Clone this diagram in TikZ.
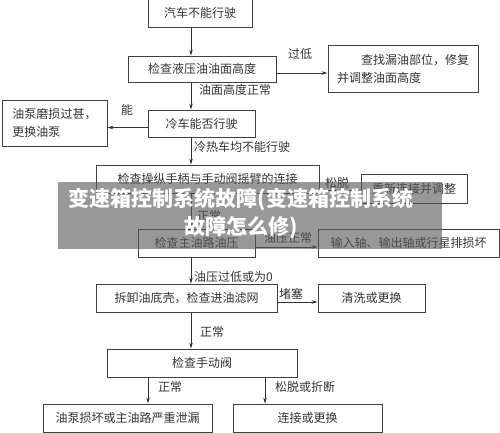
\documentclass[tikz,border=0pt]{standalone}
\usepackage{fontspec}
\setmainfont{Noto Sans CJK SC}
\usetikzlibrary{arrows.meta}

\begin{document}
\begin{tikzpicture}[x=1pt,y=-1pt,
    font=\fontsize{12}{18}\selectfont,
    >={Stealth[length=6pt,width=3.5pt]},
    box/.style={draw=black!75,line width=0.9pt,text=black!80,inner sep=2pt},
    lbl/.style={text=black!80,inner sep=1pt},
    flow/.style={->,draw=black!80,line width=0.7pt}]
\useasboundingbox (0,0) rectangle (500,433);
    % Draw the boxes
    \node (car) at (200,12.5) [box,minimum width=104pt,minimum height=29pt] {汽车不能行驶};
    \node (level) at (202,69) [box,minimum width=148pt,minimum height=26pt] {检查液压油油面高度};
    \node (leak) at (403,68.5) [box,minimum width=150pt,minimum height=47pt,align=left] {\hspace{2em}查找漏油部位，修复\\并调整油面高度};
    \node (cold) at (201.5,123.5) [box,minimum width=107pt,minimum height=27pt] {冷车能否行驶};
    \node (pump) at (54.5,123) [box,minimum width=105pt,minimum height=46pt,align=left] {油泵磨损过甚，\\更换油泵};
    \node (lever) at (207.5,179) [box,minimum width=223pt,minimum height=28pt] {检查操纵手柄与手动阀摇臂的连接};
    \node (refit) at (414,188.5) [box,minimum width=106pt,minimum height=29pt] {重新连接并调整};
    \node (press) at (196.5,243) [box,minimum width=117pt,minimum height=28pt] {检查主油路油压};
    \node (shaft) at (408.5,243) [box,minimum width=181pt,minimum height=28pt] {输入轴、输出轴或行星排损坏};
    \node (filter) at (186.5,298) [box,minimum width=181pt,minimum height=28pt] {拆卸油底壳，检查进油滤网};
    \node (clean) at (371.5,298) [box,minimum width=107pt,minimum height=28pt] {清洗或更换};
    \node (valve) at (202,363) [box,minimum width=190pt,minimum height=28pt] {检查手动阀};
    \node (broken) at (127.5,418) [box,minimum width=169pt,minimum height=28pt] {油泵损坏或主油路严重泄漏};
    \node (swap) at (307.5,418) [box,minimum width=149pt,minimum height=28pt] {连接或更换};
    % Draw the main line
    \coordinate (spine) at (191,0);
    \coordinate (lbr) at (148,0);
    \coordinate (rbr) at (265,0);
    \draw[flow] (car.south -| spine) -- (level.north -| spine);
    \draw[flow] (level.south -| spine) -- (cold.north -| spine);
    \draw[flow] (cold.south -| spine) -- (lever.north -| spine);
    \draw[flow] (lever.south -| spine) -- (press.north -| spine);
    \draw[flow] (press.south -| spine) -- (filter.north -| spine);
    \draw[flow] (filter.south -| spine) -- (valve.north -| spine);
    % Side branches
    \draw[flow] ([yshift=-4pt]level.east) -- ([yshift=-4pt]level.east -| leak.west);
    \draw[flow] ([yshift=-4pt]cold.west) -- ([yshift=-4pt]cold.west -| pump.east);
    \draw[flow] ([yshift=-2pt]refit.west -| lever.east) -- ([yshift=-2pt]refit.west);
    \draw[flow] ([yshift=-4pt]press.east) -- ([yshift=-4pt]shaft.west);
    \draw[flow] ([yshift=-4pt]filter.east) -- ([yshift=-4pt]clean.west);
    \draw[flow] (valve.south -| lbr) -- (broken.north -| lbr);
    \draw[flow] (valve.south -| rbr) -- (swap.north -| rbr);
    % Labels
    \node (l1) at (198,90) [lbl,anchor=west] {油面高度正常};
    \node (l2) at (300,54) [lbl] {过低};
    \node (l3) at (127,110) [lbl] {能};
    \node (l4) at (193,147) [lbl,anchor=west] {冷热车均不能行驶};
    \node (l5) at (337,183) [lbl] {松脱};
    \node (l6) at (196,216) [lbl,anchor=west] {正常};
    \node (l7) at (288,238) [lbl] {油压正常};
    \node (l8) at (193,277) [lbl,anchor=west] {油压过低或为0};
    \node (l9) at (291,294) [lbl] {堵塞};
    \node (l10) at (212,332) [lbl] {正常};
    \node (l11) at (170,387) [lbl] {正常};
    \node (l12) at (305,387) [lbl] {松脱或折断};
    % Watermark band
    \fill[black!65,opacity=0.62] (58,182) rectangle (442,249);
    \node (wmtext) at (241,214) [text=white,align=center,inner sep=0pt,
        font=\fontsize{21}{28}\selectfont\bfseries] {变速箱控制系统故障(变速箱控制系统\\故障怎么修)};
\end{tikzpicture}
\end{document}
